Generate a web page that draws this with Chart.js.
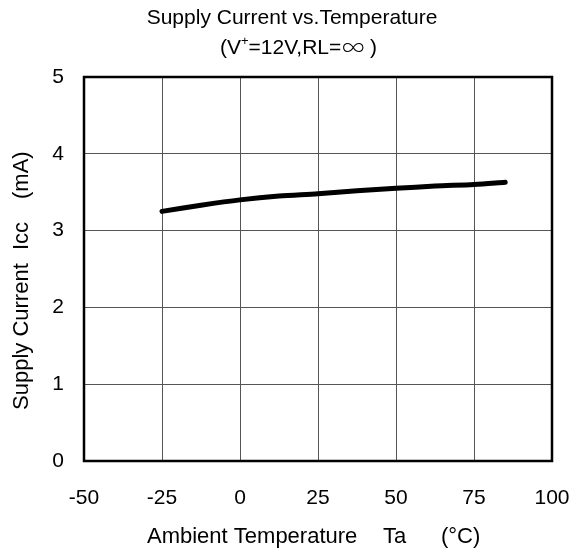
<!DOCTYPE html>
<html>
<head>
<meta charset="utf-8">
<script src="https://cdn.jsdelivr.net/npm/chart.js@4.4.0/dist/chart.umd.min.js"></script>
<style>
html,body{margin:0;padding:0;background:#fff;}
#wrap{width:582px;height:554px;}
</style>
</head>
<body>
<div id="wrap"><canvas id="c" width="582" height="554"></canvas></div>
<script>
const temperatures = [-25, -12.5, 0, 12.5, 25, 37.5, 50, 62.5, 75, 85];
const supplyCurrent = [3.25, 3.33, 3.40, 3.45, 3.48, 3.52, 3.55, 3.58, 3.60, 3.63];
const xTicks = [-50, -25, 0, 25, 50, 75, 100];
const yTicks = [0, 1, 2, 3, 4, 5];
const titleLine1 = "Supply Current vs.Temperature";
const xTitleParts = ["Ambient Temperature", "Ta", "(°C)"];
const yTitleParts = ["Supply Current", "Icc", "(mA)"];

const FONT = "'Liberation Sans', Arial, sans-serif";

const decor = {
  id: 'decor',
  afterDraw(chart) {
    const ctx = chart.ctx;
    const a = chart.chartArea;
    ctx.save();
    // frame
    ctx.strokeStyle = '#000';
    ctx.lineWidth = 2.5;
    ctx.strokeRect(a.left, a.top, a.right - a.left, a.bottom - a.top);
    ctx.fillStyle = '#000';
    ctx.textBaseline = 'middle';
    // title line 1
    ctx.font = "21px " + FONT;
    ctx.textAlign = 'center';
    ctx.fillText(titleLine1, 292, 18);
    // title line 2 with superscript
    const p1 = "(V", sup = "+", p2 = "=12V,RL=", inf = "∞", p3 = " )";
    ctx.textAlign = 'left';
    let x = 220;
    ctx.font = "21px " + FONT;
    ctx.fillText(p1, x, 48); x += ctx.measureText(p1).width;
    ctx.font = "13px " + FONT;
    ctx.fillText(sup, x, 41); x += ctx.measureText(sup).width;
    ctx.font = "21px " + FONT;
    ctx.fillText(p2, x, 48); x += ctx.measureText(p2).width + 1;
    ctx.font = "300 22px 'Noto Sans CJK JP', 'DejaVu Sans', sans-serif";
    ctx.fillText(inf, x, 47); x += ctx.measureText(inf).width;
    ctx.font = "21px " + FONT;
    ctx.fillText(p3, x, 48);
    // x title
    ctx.font = "22px " + FONT;
    ctx.fillText(xTitleParts[0], 147, 537);
    ctx.fillText(xTitleParts[1], 383, 537);
    ctx.fillText(xTitleParts[2], 441, 537);
    // y title
    ctx.translate(22, 0);
    ctx.rotate(-Math.PI / 2);
    ctx.fillText(yTitleParts[0], -410, 0);
    ctx.fillText(yTitleParts[1], -250, 0);
    ctx.fillText(yTitleParts[2], -199, 0);
    ctx.restore();
  }
};

new Chart(document.getElementById('c'), {
  type: 'line',
  data: {
    datasets: [{
      data: temperatures.map((t, i) => ({x: t, y: supplyCurrent[i]})),
      borderColor: '#000',
      borderWidth: 5,
      pointRadius: 0,
      tension: 0.3,
      borderCapStyle: 'round',
      fill: false
    }]
  },
  options: {
    responsive: false,
    animation: false,
    layout: {padding: {top: 77, right: 30, left: 0, bottom: 0}},
    plugins: {legend: {display: false}, title: {display: false}, tooltip: {enabled: false}},
    scales: {
      x: {
        type: 'linear', min: xTicks[0], max: xTicks[xTicks.length - 1],
        afterBuildTicks(s) { s.ticks = xTicks.map(v => ({value: v})); },
        afterFit(s) { s.height = 93; s.paddingLeft = 0; s.paddingRight = 0; },
        ticks: {color: '#000', font: {size: 21, family: FONT}, padding: 25, maxRotation: 0, autoSkip: false},
        grid: {color: '#555', lineWidth: 1, drawTicks: false},
        border: {display: false}
      },
      y: {
        type: 'linear', min: yTicks[0], max: yTicks[yTicks.length - 1],
        afterBuildTicks(s) { s.ticks = yTicks.map(v => ({value: v})); },
        afterFit(s) { s.width = 84; s.paddingTop = 0; s.paddingBottom = 0; },
        ticks: {color: '#000', font: {size: 21, family: FONT}, padding: 20, autoSkip: false},
        grid: {color: '#555', lineWidth: 1, drawTicks: false},
        border: {display: false}
      }
    }
  },
  plugins: [decor]
});
</script>
</body>
</html>
